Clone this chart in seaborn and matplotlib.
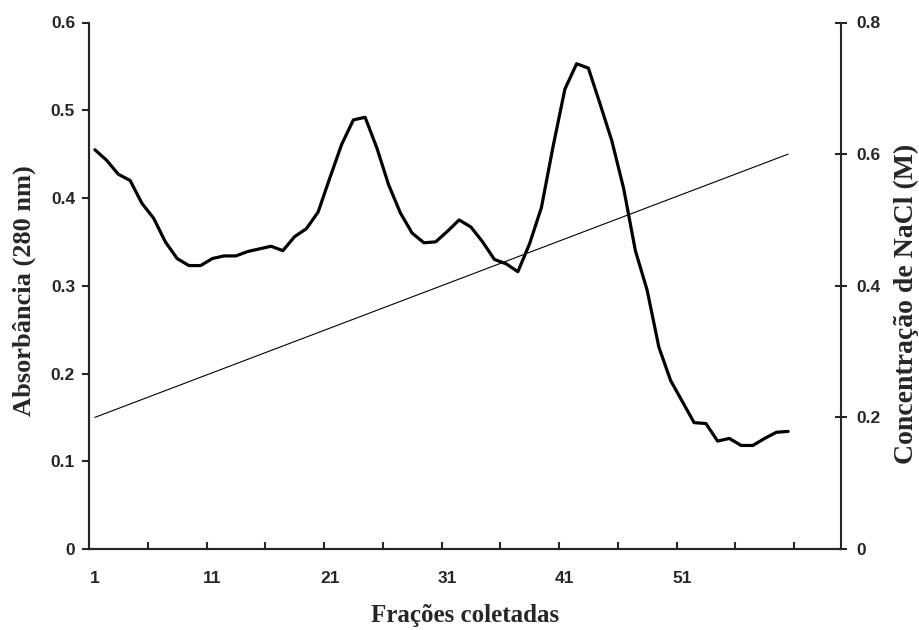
import numpy as np
import pandas as pd
import matplotlib
matplotlib.use("Agg")
import matplotlib.pyplot as plt
import seaborn as sns

# Absorbance (280 nm) per collected fraction
fractions = list(range(1, 61))
absorbance = [0.455, 0.443, 0.427, 0.420, 0.394, 0.377, 0.350, 0.331, 0.323, 0.323,
              0.331, 0.334, 0.334, 0.339, 0.342, 0.345, 0.340, 0.356, 0.365, 0.384,
              0.423, 0.461, 0.489, 0.492, 0.457, 0.415, 0.383, 0.360, 0.349, 0.350,
              0.362, 0.375, 0.367, 0.350, 0.330, 0.325, 0.316, 0.348, 0.389, 0.459,
              0.524, 0.553, 0.548, 0.507, 0.465, 0.411, 0.340, 0.295, 0.230, 0.192,
              0.168, 0.144, 0.143, 0.123, 0.126, 0.118, 0.118, 0.126, 0.133, 0.134]

# NaCl gradient (linear, start and end)
nacl_fractions = [1, 60]
nacl = [0.2, 0.6]

x_labels = [1, 11, 21, 31, 41, 51]

df = pd.DataFrame({"fracao": fractions, "abs": absorbance})
df_nacl = pd.DataFrame({"fracao": nacl_fractions, "nacl": nacl})

sns.set_style("ticks")
plt.rcParams['font.family'] = ['Liberation Sans', 'DejaVu Sans']

fig = plt.figure(figsize=(9.19, 6.30), dpi=100)
ax = fig.add_axes([89/919, 1-549/630, (841-89)/919, (549-22.5)/630])
ax2 = ax.twinx()

sns.lineplot(data=df, x="fracao", y="abs", ax=ax, color="black", linewidth=2.3)
sns.lineplot(data=df_nacl, x="fracao", y="nacl", ax=ax2, color="black", linewidth=0.8)

ax.set_xlim(0.5, 64.5)
ax.set_ylim(0, 0.6)
ax2.set_ylim(0, 0.8)

# category boundaries as tick marks, labels every 10 fractions
ax.set_xticks(np.arange(5.5, 61, 5))
ax.set_xticklabels([])
ax.set_xticks(x_labels, minor=True)
ax.set_xticklabels([str(v) for v in x_labels], minor=True)
ax.tick_params(axis="x", which="major", direction="in", length=5, width=1.5)
ax.tick_params(axis="x", which="minor", length=0, pad=16, labelsize=12.5)

ax.set_yticks(np.arange(0, 0.61, 0.1))
ax.set_yticklabels(["0", "0.1", "0.2", "0.3", "0.4", "0.5", "0.6"])
ax.tick_params(axis="y", direction="out", length=5, width=1.5, pad=5, labelsize=12.5)
ax2.set_yticks(np.arange(0, 0.81, 0.2))
ax2.set_yticklabels(["0", "0.2", "0.4", "0.6", "0.8"])
ax2.tick_params(axis="y", direction="inout", length=8, width=1.5, pad=7, labelsize=12.5)

for a in (ax, ax2):
    for t in a.get_xticklabels(which="both") + a.get_yticklabels():
        t.set_fontweight("bold")
    for s in a.spines.values():
        s.set_linewidth(1.5)
ax.spines["top"].set_visible(False)
ax2.spines["top"].set_visible(False)
ax.spines["right"].set_visible(False)

serif = ["Liberation Serif", "DejaVu Serif"]
ax.set_xlabel("Frações coletadas", family=serif, weight="bold", size=18)
ax.set_ylabel("Absorbância (280 nm)", family=serif, weight="bold", size=19)
ax2.set_ylabel("Concentração de NaCl (M)", family=serif, weight="bold", size=20, rotation=90)
ax.xaxis.set_label_coords(0.5, -0.104)
ax.yaxis.set_label_coords(-0.07, 0.49)
ax2.yaxis.set_label_coords(1.07, 0.465)

fig.savefig("out.png", dpi=100)
